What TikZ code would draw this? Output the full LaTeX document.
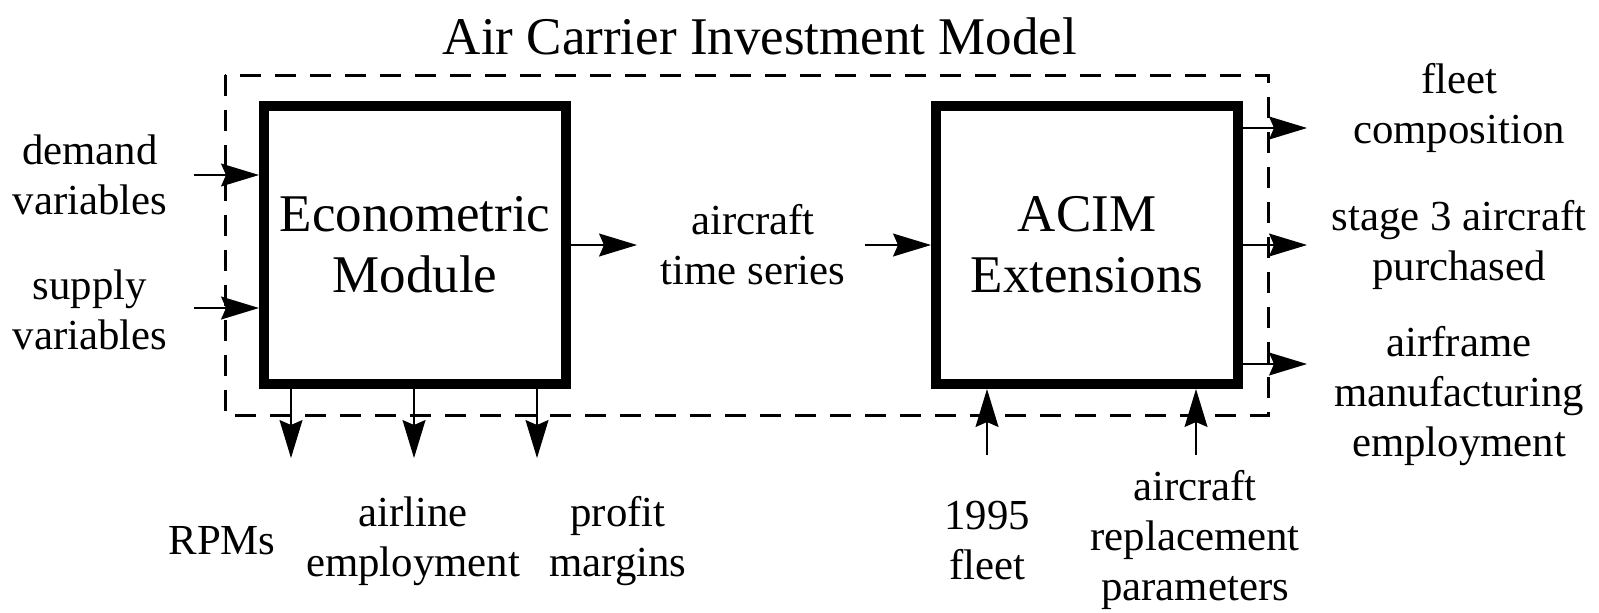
\documentclass[tikz,border=0pt]{standalone}
\usepackage{fontspec}
\setmainfont{Liberation Serif}
\usetikzlibrary{arrows.meta}

\begin{document}
\begin{tikzpicture}[x=0.5pt,y=-0.5pt,
  module/.style={draw, line width=5pt, minimum width=151pt, minimum height=139pt,
    align=center, inner sep=0pt, font=\fontsize{26.5}{30.5}\selectfont},
  lbl/.style={align=center, inner sep=0pt, font=\fontsize{21.4}{25}\selectfont},
  heading/.style={inner sep=0pt, font=\fontsize{26.5}{30.5}\selectfont},
  arr/.style={line width=0.65pt, -{Stealth[length=19pt,width=11.5pt,inset=2.5pt]}},
  frame/.style={draw, line width=1.5pt, dash pattern=on 10.5pt off 7pt}
]
\useasboundingbox (0,0) rectangle (1599,612);

% overall model boundary
\draw[frame] (225,75) rectangle (1268,415);
\node[heading] (title) at (760,36) {Air Carrier Investment Model};

% the two modules
\node[module] (econ) at (415,245) {Econometric\\Module};
\node[module] (acim) at (1087,245) {ACIM\\Extensions};

% inputs on the left
\node[lbl] (demand) at (90,175) {demand\\variables};
\node[lbl] (supply) at (90,310) {supply\\variables};
\coordinate (demandIn) at (194,175);
\coordinate (supplyIn) at (194,308);
\draw[arr] (demandIn) -- (econ.west |- demandIn);
\draw[arr] (supplyIn) -- (econ.west |- supplyIn);

% link between the modules
\node[lbl] (series) at (753,245) {aircraft\\time series};
\coordinate (seriesIn) at (637,245);
\coordinate (seriesOut) at (865,245);
\draw[arr] (econ.east) -- (seriesIn);
\draw[arr] (seriesOut) -- (acim.west);

% econometric outputs
\node[lbl] (rpm) at (222,541) {RPMs};
\node[lbl] (emp) at (413,541) {airline\\employment};
\node[lbl] (profit) at (618,541) {profit\\margins};
\coordinate (rpmTip) at (291,458);
\coordinate (empTip) at (414,458);
\coordinate (profitTip) at (537,458);
\draw[arr] (econ.south -| rpmTip) -- (rpmTip);
\draw[arr] (econ.south -| empTip) -- (empTip);
\draw[arr] (econ.south -| profitTip) -- (profitTip);

% ACIM inputs from below
\node[lbl] (fleet) at (987,541) {1995\\fleet};
\node[lbl] (repl) at (1195,540) {aircraft\\replacement\\parameters};
\coordinate (fleetIn) at (987,455);
\coordinate (replIn) at (1196,455);
\draw[arr] (fleetIn) -- (acim.south -| fleetIn);
\draw[arr] (replIn) -- (acim.south -| replIn);

% ACIM outputs on the right
\node[lbl] (comp) at (1459,108) {fleet\\composition};
\node[lbl] (stage) at (1459,245) {stage 3 aircraft\\purchased};
\node[lbl] (frame) at (1459,396) {airframe\\manufacturing\\employment};
\coordinate (compOut) at (1307,128);
\coordinate (stageOut) at (1307,245);
\coordinate (frameOut) at (1307,364);
\draw[arr] (acim.east |- compOut) -- (compOut);
\draw[arr] (acim.east |- stageOut) -- (stageOut);
\draw[arr] (acim.east |- frameOut) -- (frameOut);
\end{tikzpicture}
\end{document}
